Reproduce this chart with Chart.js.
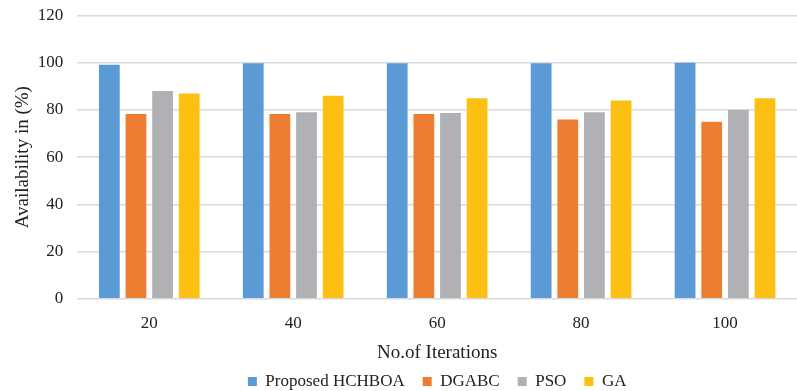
<!DOCTYPE html>
<html>
<head>
<meta charset="utf-8">
<script src="https://cdn.jsdelivr.net/npm/chart.js@4"></script>
<style>
  html, body { margin: 0; padding: 0; background: #fff; }
  #wrap { width: 797px; height: 391px; }
</style>
</head>
<body>
<div id="wrap"><canvas id="barChart"></canvas></div>
<script>
const iterations = ['20', '40', '60', '80', '100'];
const hchboa = [99.1, 99.8, 99.8, 99.8, 100];
const dgabc = [78.3, 78.3, 78.3, 76, 75];
const pso = [88, 79, 78.7, 79, 80];
const ga = [87, 86, 85, 84, 85];

const serif = "'Liberation Serif', 'Times New Roman', serif";

function series(label, data, color) {
    return {
        label: label,
        data: data,
        backgroundColor: color,
        borderWidth: 0,
        barPercentage: 0.78,
        categoryPercentage: 0.74
    };
}

var ctx = document.getElementById('barChart').getContext('2d');
var myChart = new Chart(ctx, {
    type: 'bar',
    data: {
        labels: iterations,
        datasets: [
            series('Proposed HCHBOA', hchboa, '#5B9BD5'),
            series('DGABC', dgabc, '#ED7D31'),
            series('PSO', pso, '#B0B1B4'),
            series('GA', ga, '#FBC012')
        ]
    },
    options: {
        responsive: true,
        maintainAspectRatio: false,
        animation: false,
        // negative paddings pull the legend and axis titles in tighter, like the original
        layout: { padding: { top: 15.5, right: 0, left: 8, bottom: -9 } },
        plugins: {
            tooltip: { enabled: false },
            legend: {
                position: 'bottom',
                fullSize: false,
                labels: {
                    boxWidth: 9,
                    boxHeight: 9,
                    padding: 18,
                    color: '#222',
                    font: { family: serif, size: 17 }
                }
            }
        },
        scales: {
            x: {
                grid: { display: false },
                border: { display: false },
                ticks: { color: '#222', padding: 7, font: { family: serif, size: 17 } },
                title: {
                    display: true,
                    text: 'No.of Iterations',
                    color: '#222',
                    padding: { top: 0, bottom: -9 },
                    font: { family: serif, size: 19 }
                }
            },
            y: {
                min: 0,
                max: 120,
                beginAtZero: true,
                afterFit: function (scale) { scale.paddingTop = 0; },
                ticks: { stepSize: 20, color: '#222', padding: 14, font: { family: serif, size: 17 } },
                grid: { color: '#d9d9d9', lineWidth: 1.5, drawTicks: false },
                border: { display: false },
                title: {
                    display: true,
                    text: 'Availability in (%)',
                    color: '#222',
                    padding: { top: 4, bottom: -11 },
                    font: { family: serif, size: 19 }
                }
            }
        }
    }
});
</script>
</body>
</html>
